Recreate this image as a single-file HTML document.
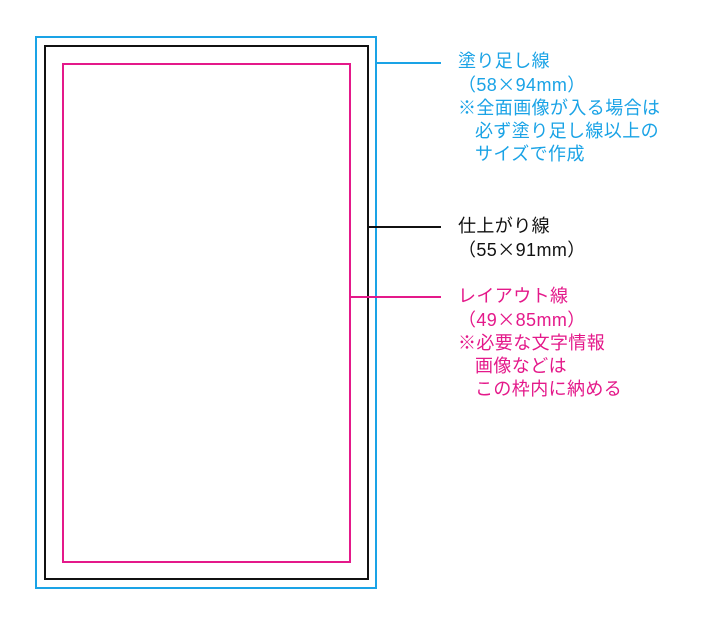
<!DOCTYPE html>
<html><head><meta charset="utf-8"><style>
body{margin:0;width:721px;height:623px;background:#fff;position:relative;overflow:hidden;font-family:"Liberation Sans","Noto Sans CJK JP",sans-serif;}
.t{position:absolute;left:458px;font-size:18px;letter-spacing:0.4px;line-height:23px;white-space:nowrap;}
.i{padding-left:17px;}
.x{font-family:"Noto Sans CJK JP",sans-serif;}
</style></head><body>
<svg width="721" height="623" style="position:absolute;left:0;top:0">
<rect x="36" y="37" width="340" height="551" fill="none" stroke="#1aa3e6" stroke-width="2"/>
<rect x="45" y="46" width="323" height="533" fill="none" stroke="#111" stroke-width="2"/>
<rect x="63" y="64" width="287" height="498" fill="none" stroke="#e4198a" stroke-width="2"/>
<line x1="377" y1="63" x2="441" y2="63" stroke="#1aa3e6" stroke-width="2"/>
<line x1="369" y1="227" x2="441" y2="227" stroke="#111" stroke-width="2"/>
<line x1="351" y1="297" x2="441" y2="297" stroke="#e4198a" stroke-width="2"/>
</svg>
<div class="t" style="top:50px;color:#1aa3e6">塗り足し線<br>（58<span class="x">×</span>94mm）<br>※全面画像が入る場合は<br><span class="i">必ず塗り足し線以上の</span><br><span class="i">サイズで作成</span></div>
<div class="t" style="top:215px;color:#111">仕上がり線<br>（55<span class="x">×</span>91mm）</div>
<div class="t" style="top:285px;color:#e4198a">レイアウト線<br>（49<span class="x">×</span>85mm）<br>※必要な文字情報<br><span class="i">画像などは</span><br><span class="i">この枠内に納める</span></div>
</body></html>
